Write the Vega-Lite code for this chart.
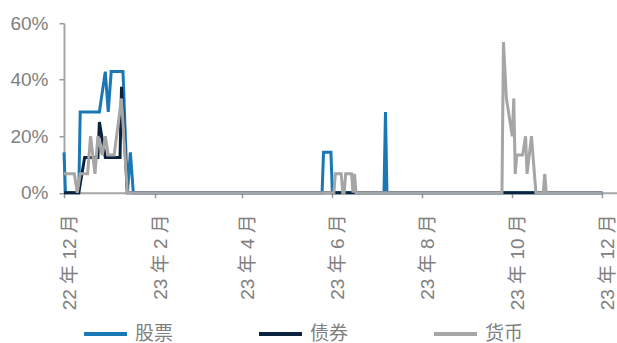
{
  "$schema": "https://vega.github.io/schema/vega-lite/v6.json",
  "width": 553,
  "height": 169.5,
  "autosize": {"type": "none"},
  "padding": {"left": 64, "top": 23.2, "right": 0, "bottom": 150.3},
  "background": "white",
  "config": {
    "view": {"stroke": null},
    "font": "Liberation Sans, Noto Sans CJK SC, sans-serif"
  },
  "data": {
    "values": [
      {"date": "2022-12-01", "asset": "股票", "share": 0.1429},
      {"date": "2022-12-02", "asset": "股票", "share": 0},
      {"date": "2022-12-11", "asset": "股票", "share": 0},
      {"date": "2022-12-12", "asset": "股票", "share": 0.2857},
      {"date": "2022-12-25", "asset": "股票", "share": 0.2857},
      {"date": "2022-12-29", "asset": "股票", "share": 0.4286},
      {"date": "2022-12-31", "asset": "股票", "share": 0.2857},
      {"date": "2023-01-02", "asset": "股票", "share": 0.4286},
      {"date": "2023-01-10", "asset": "股票", "share": 0.4286},
      {"date": "2023-01-13", "asset": "股票", "share": 0},
      {"date": "2023-01-15", "asset": "股票", "share": 0.1429},
      {"date": "2023-01-17", "asset": "股票", "share": 0},
      {"date": "2023-05-25", "asset": "股票", "share": 0},
      {"date": "2023-05-26", "asset": "股票", "share": 0.1429},
      {"date": "2023-05-31", "asset": "股票", "share": 0.1429},
      {"date": "2023-06-01", "asset": "股票", "share": 0},
      {"date": "2023-07-06", "asset": "股票", "share": 0},
      {"date": "2023-07-07", "asset": "股票", "share": 0.2857},
      {"date": "2023-07-08", "asset": "股票", "share": 0},
      {"date": "2023-12-01", "asset": "股票", "share": 0},

      {"date": "2022-12-01", "asset": "债券", "share": 0},
      {"date": "2022-12-11", "asset": "债券", "share": 0},
      {"date": "2022-12-15", "asset": "债券", "share": 0.125},
      {"date": "2022-12-24", "asset": "债券", "share": 0.125},
      {"date": "2022-12-25", "asset": "债券", "share": 0.25},
      {"date": "2022-12-29", "asset": "债券", "share": 0.125},
      {"date": "2023-01-08", "asset": "债券", "share": 0.125},
      {"date": "2023-01-09", "asset": "债券", "share": 0.375},
      {"date": "2023-01-13", "asset": "债券", "share": 0},
      {"date": "2023-12-01", "asset": "债券", "share": 0},

      {"date": "2022-12-01", "asset": "货币", "share": 0.0667},
      {"date": "2022-12-08", "asset": "货币", "share": 0.0667},
      {"date": "2022-12-10", "asset": "货币", "share": 0},
      {"date": "2022-12-12", "asset": "货币", "share": 0.0667},
      {"date": "2022-12-17", "asset": "货币", "share": 0.0667},
      {"date": "2022-12-19", "asset": "货币", "share": 0.2},
      {"date": "2022-12-22", "asset": "货币", "share": 0.0667},
      {"date": "2022-12-24", "asset": "货币", "share": 0.2},
      {"date": "2022-12-27", "asset": "货币", "share": 0.1333},
      {"date": "2022-12-29", "asset": "货币", "share": 0.2},
      {"date": "2022-12-31", "asset": "货币", "share": 0.1333},
      {"date": "2023-01-04", "asset": "货币", "share": 0.1333},
      {"date": "2023-01-09", "asset": "货币", "share": 0.3333},
      {"date": "2023-01-13", "asset": "货币", "share": 0},
      {"date": "2023-06-02", "asset": "货币", "share": 0},
      {"date": "2023-06-03", "asset": "货币", "share": 0.0667},
      {"date": "2023-06-07", "asset": "货币", "share": 0.0667},
      {"date": "2023-06-08", "asset": "货币", "share": 0},
      {"date": "2023-06-09", "asset": "货币", "share": 0},
      {"date": "2023-06-10", "asset": "货币", "share": 0.0667},
      {"date": "2023-06-14", "asset": "货币", "share": 0.0667},
      {"date": "2023-06-15", "asset": "货币", "share": 0},
      {"date": "2023-06-16", "asset": "货币", "share": 0.0667},
      {"date": "2023-06-17", "asset": "货币", "share": 0},
      {"date": "2023-09-24", "asset": "货币", "share": 0},
      {"date": "2023-09-25", "asset": "货币", "share": 0.5333},
      {"date": "2023-09-27", "asset": "货币", "share": 0.3333},
      {"date": "2023-10-01", "asset": "货币", "share": 0.2},
      {"date": "2023-10-02", "asset": "货币", "share": 0.3333},
      {"date": "2023-10-03", "asset": "货币", "share": 0.0667},
      {"date": "2023-10-04", "asset": "货币", "share": 0.1333},
      {"date": "2023-10-08", "asset": "货币", "share": 0.1333},
      {"date": "2023-10-10", "asset": "货币", "share": 0.2},
      {"date": "2023-10-11", "asset": "货币", "share": 0.0667},
      {"date": "2023-10-14", "asset": "货币", "share": 0.2},
      {"date": "2023-10-17", "asset": "货币", "share": 0},
      {"date": "2023-10-22", "asset": "货币", "share": 0},
      {"date": "2023-10-23", "asset": "货币", "share": 0.0667},
      {"date": "2023-10-24", "asset": "货币", "share": 0},
      {"date": "2023-12-01", "asset": "货币", "share": 0}
    ]
  },
  "mark": {"type": "line", "strokeWidth": 3, "clip": false},
  "encoding": {
    "x": {
      "field": "date",
      "type": "temporal",
      "scale": {
        "type": "utc",
        "domain": [
          {"year": 2022, "month": 12, "date": 1, "utc": true},
          {"year": 2023, "month": 12, "date": 11, "utc": true}
        ]
      },
      "axis": {
        "title": null,
        "grid": false,
        "values": [
          {"year": 2022, "month": 12, "date": 1, "utc": true},
          {"year": 2023, "month": 2, "date": 1, "utc": true},
          {"year": 2023, "month": 4, "date": 1, "utc": true},
          {"year": 2023, "month": 6, "date": 1, "utc": true},
          {"year": 2023, "month": 8, "date": 1, "utc": true},
          {"year": 2023, "month": 10, "date": 1, "utc": true},
          {"year": 2023, "month": 12, "date": 1, "utc": true}
        ],
        "labelExpr": "utcFormat(datum.value, '%y 年 %-m 月')",
        "labelAngle": -90,
        "labelFontSize": 19,
        "labelColor": "#808080",
        "labelPadding": 16,
        "labelOffset": 5,
        "labelFlush": false,
        "labelOverlap": false,
        "labelBound": false,
        "tickSize": 5,
        "tickColor": "#999999",
        "tickWidth": 1.5,
        "domainColor": "#a6a6a6",
        "domainWidth": 2
      }
    },
    "y": {
      "field": "share",
      "type": "quantitative",
      "scale": {"domain": [0, 0.6], "nice": false},
      "axis": {
        "title": null,
        "grid": false,
        "values": [0, 0.2, 0.4, 0.6],
        "format": ".0%",
        "labelFontSize": 19,
        "labelColor": "#808080",
        "labelPadding": 11,
        "tickSize": 5,
        "tickColor": "#999999",
        "tickWidth": 1.5,
        "domainColor": "#a6a6a6",
        "domainWidth": 2
      }
    },
    "color": {
      "field": "asset",
      "type": "nominal",
      "scale": {
        "domain": ["股票", "债券", "货币"],
        "range": ["#1a78b4", "#0c2340", "#a6a6a6"]
      },
      "legend": {
        "title": null,
        "orient": "none",
        "legendX": 18,
        "legendY": 287,
        "direction": "horizontal",
        "columns": 3,
        "columnPadding": 77,
        "padding": 0,
        "symbolType": "stroke",
        "symbolSize": 1849,
        "symbolStrokeWidth": 4,
        "labelFontSize": 19,
        "labelColor": "#808080",
        "labelOffset": 6
      }
    }
  }
}
